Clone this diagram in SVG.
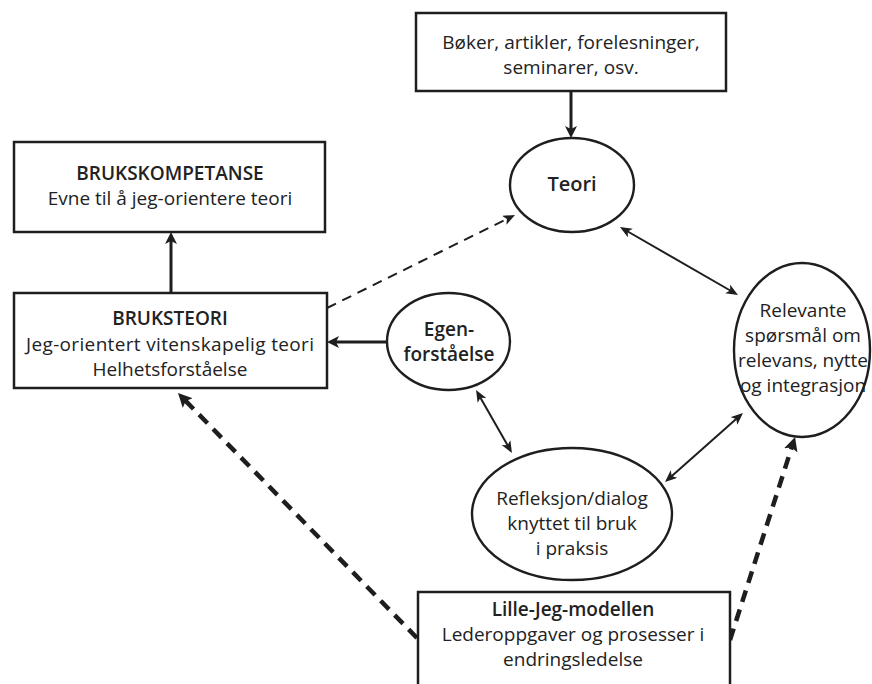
<svg xmlns="http://www.w3.org/2000/svg" width="872" height="684" viewBox="0 0 872 684">
  <style>
    .box { fill: #fff; stroke: #1e1e1e; stroke-width: 2.5; }
    .oval { fill: #fff; stroke: #1e1e1e; stroke-width: 2.4; }
    text { font-family: "Open Sans", "Liberation Sans", sans-serif; font-size: 19px; fill: #222; text-anchor: middle; }
    .b { font-weight: 600; }
    .solid { fill: none; stroke: #1e1e1e; stroke-width: 3; }
    .thin { fill: none; stroke: #1e1e1e; stroke-width: 2; }
    .dash { fill: none; stroke: #1e1e1e; stroke-width: 2; stroke-dasharray: 10 7; }
    .bigdash { fill: none; stroke: #1e1e1e; stroke-width: 4.5; stroke-dasharray: 12 8; }
  </style>
  <defs>
    <marker id="head" markerUnits="userSpaceOnUse" markerWidth="14" markerHeight="12" viewBox="0 0 14 12" refX="4" refY="6" orient="auto-start-reverse">
      <path d="M0,0 L12,6 L0,12 L3,6 z" fill="#1e1e1e"/>
    </marker>
    <marker id="headS" markerUnits="userSpaceOnUse" markerWidth="13" markerHeight="10" viewBox="0 0 13 10" refX="4" refY="5" orient="auto-start-reverse">
      <path d="M0,0 L12,5 L0,10 L3,5 z" fill="#1e1e1e"/>
    </marker>
    <marker id="headL" markerUnits="userSpaceOnUse" markerWidth="16" markerHeight="14" viewBox="0 0 16 14" refX="4" refY="7" orient="auto-start-reverse">
      <path d="M0,0 L14,7 L0,14 L3,7 z" fill="#1e1e1e"/>
    </marker>
  </defs>
  <rect width="872" height="684" fill="#fff"/>

  <g id="connectors">
    <!-- sources feed the theory node -->
    <line class="solid" x1="571" y1="91" x2="571" y2="130" marker-end="url(#head)"/>
    <!-- use-theory up to use-competence -->
    <line class="solid" x1="171" y1="293" x2="171" y2="240" marker-end="url(#head)"/>
    <!-- self-understanding into use-theory -->
    <line class="solid" x1="387" y1="342" x2="335" y2="342" marker-end="url(#head)"/>
    <!-- use-theory back to theory -->
    <line class="dash" x1="327" y1="308" x2="507.8" y2="218.5" marker-end="url(#headS)"/>
    <!-- two-way links in the cycle -->
    <line class="thin" x1="626.9" y1="231" x2="731.1" y2="291" marker-start="url(#headS)" marker-end="url(#headS)"/>
    <line class="thin" x1="480" y1="396.9" x2="508" y2="446.1" marker-start="url(#headS)" marker-end="url(#headS)"/>
    <line class="thin" x1="671" y1="476.7" x2="737" y2="418.3" marker-start="url(#headS)" marker-end="url(#headS)"/>
    <!-- model links -->
    <line class="bigdash" x1="417" y1="638" x2="185" y2="400.2" marker-end="url(#headL)"/>
    <line class="bigdash" x1="730" y1="640" x2="792" y2="446.5" marker-end="url(#headL)"/>
  </g>

  <g id="sources">
    <rect class="box" x="416" y="13" width="310" height="78"/>
    <text x="571" y="49">Bøker, artikler, forelesninger,</text>
    <text x="571" y="74">seminarer, osv.</text>
  </g>

  <g id="brukskompetanse">
    <rect class="box" x="14" y="142" width="311" height="90"/>
    <text class="b" x="170" y="180">BRUKSKOMPETANSE</text>
    <text x="170" y="205">Evne til å jeg-orientere teori</text>
  </g>

  <g id="bruksteori">
    <rect class="box" x="14" y="293" width="313" height="95"/>
    <text class="b" x="170" y="325">BRUKSTEORI</text>
    <text x="170" y="351" textLength="288" lengthAdjust="spacing">Jeg-orientert vitenskapelig teori</text>
    <text x="170" y="376">Helhetsforståelse</text>
  </g>

  <g id="teori">
    <ellipse class="oval" cx="572" cy="185" rx="62" ry="47"/>
    <text class="b" x="572" y="191" style="font-size:20px">Teori</text>
  </g>

  <g id="egenforstaelse">
    <ellipse class="oval" cx="448.5" cy="341.5" rx="61.5" ry="48.5"/>
    <text class="b" x="449" y="336">Egen-</text>
    <text class="b" x="449" y="361">forståelse</text>
  </g>

  <g id="relevante">
    <ellipse class="oval" cx="802" cy="350" rx="68" ry="87"/>
    <text x="803" y="317">Relevante</text>
    <text x="803" y="342">spørsmål om</text>
    <text x="803" y="367">relevans, nytte</text>
    <text x="803" y="392">og integrasjon</text>
  </g>

  <g id="refleksjon">
    <ellipse class="oval" cx="572" cy="514" rx="100" ry="66"/>
    <text x="572" y="505">Refleksjon/dialog</text>
    <text x="572" y="530">knyttet til bruk</text>
    <text x="572" y="555">i praksis</text>
  </g>

  <g id="lillejeg">
    <rect class="box" x="418" y="592" width="312" height="100"/>
    <text class="b" x="573" y="616">Lille-Jeg-modellen</text>
    <text x="573" y="641">Lederoppgaver og prosesser i</text>
    <text x="573" y="666">endringsledelse</text>
  </g>
</svg>
